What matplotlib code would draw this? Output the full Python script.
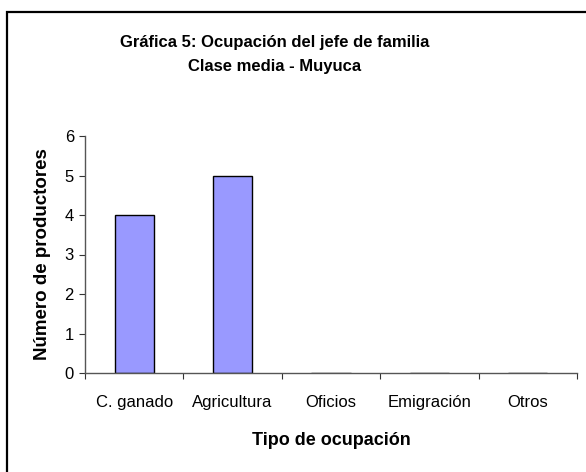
import matplotlib
matplotlib.use("Agg")
import matplotlib.pyplot as plt
import numpy as np
from matplotlib.patches import Rectangle

plt.rcParams['font.family'] = ['Liberation Sans', 'DejaVu Sans']

# Data
categories = ["C. ganado", "Agricultura", "Oficios", "Emigración", "Otros"]
values = [4, 5, 0, 0, 0]
y_ticks = [0, 1, 2, 3, 4, 5, 6]

W, H = 586, 472
fig = plt.figure(figsize=(W / 100, H / 100), dpi=100)

# outer frame, right and bottom edges fall outside the picture
fig.patches.append(Rectangle((7 / W, -0.1), 1.2, 1.1 - 12 / H,
                             transform=fig.transFigure, fill=False,
                             edgecolor='black', linewidth=1.6))

x0, x1, ytop, ybot = 85, 577, 136, 373
ax = fig.add_axes([x0 / W, (H - ybot) / H, (x1 - x0) / W, (ybot - ytop) / H])

pos = np.arange(len(categories))
ax.bar(pos, values, width=0.4, color='#9999FF', edgecolor='black', linewidth=1.0)

ax.set_xlim(-0.5, len(categories) - 0.5)
ax.set_ylim(0, 6)
ax.set_yticks(y_ticks)
ax.set_xticks(np.arange(-0.5, len(categories), 1.0))
ax.set_xticklabels([])
ax.set_xticks(pos, minor=True)
ax.set_xticklabels(categories, minor=True, fontsize=12)
ax.tick_params(axis='x', which='minor', length=0, pad=16)
ax.tick_params(axis='x', which='major', length=4, direction='out', color='#333333')
ax.tick_params(axis='y', length=4, labelsize=12, pad=4, color='#333333')

for s in ['top', 'right']:
    ax.spines[s].set_visible(False)
for s in ['left', 'bottom']:
    ax.spines[s].set_color('#555555')
    ax.spines[s].set_linewidth(1.0)
    ax.spines[s].set_zorder(5)

ax.set_xlabel("Tipo de ocupación", fontsize=13, fontweight='bold', labelpad=16)
ax.set_ylabel("Número de productores", fontsize=13.5, fontweight='bold', labelpad=10)

cx = 275 / W
fig.text(cx, 1 - 42 / H, "Gráfica 5: Ocupación del jefe de familia",
         ha='center', va='center', fontsize=12, fontweight='bold')
fig.text(cx, 1 - 67 / H, "Clase media - Muyuca",
         ha='center', va='center', fontsize=12, fontweight='bold')

fig.savefig("out.png", dpi=100)
